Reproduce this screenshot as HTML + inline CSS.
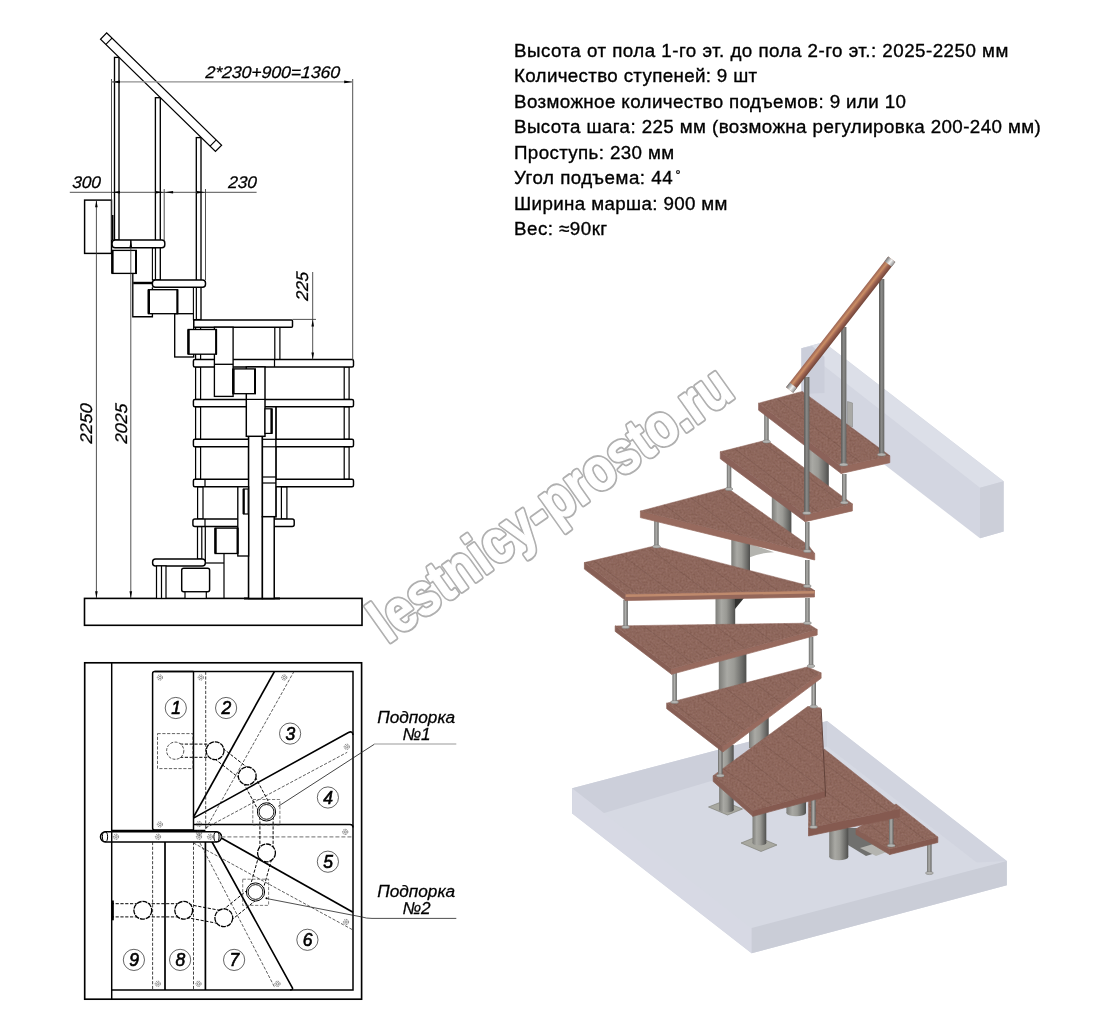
<!DOCTYPE html>
<html lang="ru"><head><meta charset="utf-8"><title>Лестница</title>
<style>
html,body{margin:0;padding:0;background:#fff;}
body{width:1099px;height:1017px;overflow:hidden;font-family:"Liberation Sans",sans-serif;}
svg{display:block;}
#info,#elev,#plan{filter:grayscale(1);}
.ln{stroke:#000;fill:none;}
.dim{font-family:"Liberation Sans",sans-serif;font-style:italic;fill:#000;stroke:#000;stroke-width:0.28px;}
.info{font-family:"Liberation Sans",sans-serif;fill:#000;stroke:#000;stroke-width:0.35px;}
</style></head><body>
<svg width="1099" height="1017" viewBox="0 0 1099 1017">
<defs>
<linearGradient id="gcol" x1="0" y1="0" x2="1" y2="0">
<stop offset="0" stop-color="#7d7d79"/><stop offset="0.3" stop-color="#a9a9a4"/><stop offset="0.55" stop-color="#9a9a95"/><stop offset="0.85" stop-color="#6a6a67"/><stop offset="1" stop-color="#4e4e4c"/></linearGradient>
<linearGradient id="gsp" x1="0" y1="0" x2="1" y2="0">
<stop offset="0" stop-color="#6a6a68"/><stop offset="0.45" stop-color="#b0b0ad"/><stop offset="1" stop-color="#636361"/></linearGradient>
<filter id="wood" x="-3%" y="-3%" width="106%" height="106%" color-interpolation-filters="sRGB">
<feTurbulence type="fractalNoise" baseFrequency="0.5" numOctaves="2" seed="11" result="n"/>
<feColorMatrix in="n" type="matrix" values="0 0 0 0 0.4  0 0 0 0 0.24  0 0 0 0 0.18  0.65 0 0 0 -0.25" result="dk"/>
<feComposite in="dk" in2="SourceGraphic" operator="in" result="d2"/>
<feColorMatrix in="n" type="matrix" values="0 0 0 0 0.7  0 0 0 0 0.56  0 0 0 0 0.52  0 0.6 0 0 -0.26" result="lt"/>
<feComposite in="lt" in2="SourceGraphic" operator="in" result="l2"/>
<feMerge><feMergeNode in="SourceGraphic"/><feMergeNode in="d2"/><feMergeNode in="l2"/></feMerge>
</filter>
<pattern id="planks" width="40" height="21.8" patternUnits="userSpaceOnUse" patternTransform="rotate(37.2)"><rect x="0" y="0" width="40" height="1" fill="#4e2f28" fill-opacity="0.17"/><rect x="0" y="10.5" width="40" height="0.9" fill="#4e2f28" fill-opacity="0.07"/></pattern>
<linearGradient id="gbal" x1="0" y1="0" x2="1" y2="0">
<stop offset="0" stop-color="#5a5a58"/><stop offset="0.5" stop-color="#8c8c8a"/><stop offset="1" stop-color="#626260"/></linearGradient>
<linearGradient id="grail" gradientUnits="userSpaceOnUse" x1="-4.5" y1="0" x2="4.5" y2="0">
<stop offset="0" stop-color="#704438"/><stop offset="0.38" stop-color="#9c6250"/><stop offset="0.65" stop-color="#cb8e64"/><stop offset="1" stop-color="#9a6354"/></linearGradient>
<linearGradient id="gcap" gradientUnits="userSpaceOnUse" x1="-4.5" y1="0" x2="4.5" y2="0">
<stop offset="0" stop-color="#8d8d8d"/><stop offset="0.45" stop-color="#f2f2f2"/><stop offset="1" stop-color="#777"/></linearGradient>

</defs>
<rect width="1099" height="1017" fill="#fff"/>
<polygon points="801.4,348.3 819.5,343.2 826.0,344.0 1003.6,481.3 1003.6,531.4 980.0,538.3 801.4,400.5" fill="#d3d6e1" />
<polygon points="801.4,348.3 819.5,343.2 826.0,344.0 1003.6,481.3 980.0,487.8" fill="#dcdfe8" />
<polygon points="801.4,348.3 812.0,346.0 824.5,357.0 824.5,393.0 801.4,394.0" fill="#cbceda" />
<polygon points="980.0,487.8 1003.6,481.3 1003.6,531.4 980.0,538.3" fill="#cccfd9" />
<polygon points="572.2,788.3 827.1,721.1 1006.8,861.0 1006.8,885.3 751.6,953.3 572.2,813.6" fill="#d6d9e3" />
<polygon points="572.2,788.3 827.1,721.1 827.1,746.4 604.2,813.1 572.2,813.6" fill="#cccfda" />
<polygon points="827.1,721.1 1006.8,861.0 976.8,862.5 827.1,746.4" fill="#d1d4df" />
<polygon points="572.2,788.3 751.6,928.0 751.6,953.3 572.2,813.6" fill="#d7d9e4" />
<polygon points="751.6,928.0 1006.8,861.0 1006.8,885.3 751.6,953.3" fill="#cacdd7" />
<polygon points="708.5,807.0 723.5,801.0 742.5,809.0 727.5,815.0" fill="#a8a8a0" stroke="#77776f" stroke-width="0.6" />
<rect x="719.1" y="745.0" width="14.6" height="65.0" fill="url(#gcol)"/>
<ellipse cx="726.4" cy="810.0" rx="7.3" ry="2.5" fill="url(#gcol)"/>
<polygon points="741.0,843.0 757.0,836.5 777.0,845.0 761.0,851.5" fill="#a8a8a0" stroke="#77776f" stroke-width="0.6" />
<rect x="786.4" y="790.0" width="19.6" height="23.0" fill="url(#gcol)"/>
<ellipse cx="796.2" cy="813.0" rx="9.8" ry="3.3" fill="url(#gcol)"/>
<polygon points="848.0,828.0 885.0,828.0 885.0,850.0 866.0,856.0 848.0,845.0" fill="#70706e" />
<polygon points="860.0,848.0 880.0,842.0 897.0,848.0 876.0,856.0" fill="#b4b4b0" />
<rect x="829.2" y="820.0" width="19.1" height="37.0" fill="url(#gcol)"/>
<ellipse cx="838.8" cy="857.0" rx="9.5" ry="3.2" fill="url(#gcol)"/>
<rect x="927.1" y="844.0" width="4.5" height="29.0" fill="url(#gsp)"/>
<ellipse cx="929.4" cy="873.0" rx="3.9" ry="1.6" fill="#b4b4b1" stroke="#7a7a78" stroke-width="0.5"/>
<polygon points="889.7,849.0 937.8,837.0 937.8,842.5 889.7,854.5" fill="#855a50" stroke="#855a50" stroke-width="0.7" stroke-linejoin="round"/>
<polygon points="856.0,829.0 889.7,849.0 889.7,854.5 856.0,834.5" fill="#875f55" stroke="#875f55" stroke-width="0.7" stroke-linejoin="round"/>
<polygon points="896.0,804.0 937.8,837.0 889.7,849.0 856.0,829.0" fill="#90695f" stroke="#90695f" stroke-width="0.5" stroke-linejoin="round" filter="url(#wood)"/>
<polygon points="896.0,804.0 937.8,837.0 889.7,849.0 856.0,829.0" fill="url(#planks)" />
<rect x="889.0" y="816.0" width="4.5" height="29.5" fill="url(#gsp)"/>
<ellipse cx="891.2" cy="845.5" rx="3.9" ry="1.6" fill="#b4b4b1" stroke="#7a7a78" stroke-width="0.5"/>
<polygon points="808.5,828.0 899.5,809.0 899.5,817.0 808.5,836.0" fill="#855a50" stroke="#855a50" stroke-width="0.7" stroke-linejoin="round"/>
<polygon points="824.2,749.0 899.5,809.0 808.5,828.0 808.5,790.0" fill="#90695f" stroke="#90695f" stroke-width="0.5" stroke-linejoin="round" filter="url(#wood)"/>
<polygon points="824.2,749.0 899.5,809.0 808.5,828.0 808.5,790.0" fill="url(#planks)" />
<rect x="752.5" y="800.0" width="13.8" height="43.0" fill="url(#gcol)"/>
<ellipse cx="759.4" cy="843.0" rx="6.9" ry="2.3" fill="url(#gcol)"/>
<rect x="811.2" y="797.0" width="4.5" height="30.0" fill="url(#gsp)"/>
<ellipse cx="813.5" cy="827.0" rx="3.9" ry="1.6" fill="#b4b4b1" stroke="#7a7a78" stroke-width="0.5"/>
<rect x="749.0" y="716.0" width="19.7" height="32.0" fill="url(#gcol)"/>
<polygon points="713.2,775.7 752.9,810.5 752.9,816.3 713.2,781.5" fill="#875f55" stroke="#875f55" stroke-width="0.7" stroke-linejoin="round"/>
<polygon points="752.9,810.5 825.3,791.0 825.3,796.8 752.9,816.3" fill="#855a50" stroke="#855a50" stroke-width="0.7" stroke-linejoin="round"/>
<polygon points="713.2,775.7 808.0,706.3 820.8,707.9 825.3,791.0 752.9,810.5" fill="#90695f" stroke="#90695f" stroke-width="0.5" stroke-linejoin="round" filter="url(#wood)"/>
<polygon points="713.2,775.7 808.0,706.3 820.8,707.9 825.3,791.0 752.9,810.5" fill="url(#planks)" />
<path d="M821.2,709 L825.4,791 V796.5" fill="none" stroke="#5b3d36" stroke-width="0.9"/>
<rect x="718.0" y="748.0" width="4.5" height="27.5" fill="url(#gsp)"/>
<ellipse cx="720.3" cy="775.5" rx="3.9" ry="1.6" fill="#b4b4b1" stroke="#7a7a78" stroke-width="0.5"/>
<rect x="718.8" y="652.0" width="27.6" height="43.0" fill="url(#gcol)"/>
<rect x="811.5" y="682.0" width="4.5" height="24.5" fill="url(#gsp)"/>
<ellipse cx="813.7" cy="706.5" rx="3.9" ry="1.6" fill="#b4b4b1" stroke="#7a7a78" stroke-width="0.5"/>
<polygon points="666.7,703.2 722.8,746.5 722.8,752.0 666.7,708.7" fill="#875f55" stroke="#875f55" stroke-width="0.7" stroke-linejoin="round"/>
<polygon points="722.8,746.5 821.1,672.8 821.1,678.3 722.8,752.0" fill="#976a5e" stroke="#976a5e" stroke-width="0.7" stroke-linejoin="round"/>
<polygon points="666.7,703.2 807.3,666.9 821.1,672.8 722.8,746.5" fill="#90695f" stroke="#90695f" stroke-width="0.5" stroke-linejoin="round" filter="url(#wood)"/>
<polygon points="666.7,703.2 807.3,666.9 821.1,672.8 722.8,746.5" fill="url(#planks)" />
<rect x="672.4" y="672.0" width="4.5" height="30.0" fill="url(#gsp)"/>
<ellipse cx="674.6" cy="702.0" rx="3.9" ry="1.6" fill="#b4b4b1" stroke="#7a7a78" stroke-width="0.5"/>
<rect x="715.5" y="597.0" width="19.7" height="31.0" fill="url(#gcol)"/>
<polygon points="735.0,598.0 744.0,598.0 735.0,609.0" fill="#333331" />
<rect x="808.8" y="637.0" width="4.5" height="29.0" fill="url(#gsp)"/>
<ellipse cx="811.0" cy="666.0" rx="3.9" ry="1.6" fill="#b4b4b1" stroke="#7a7a78" stroke-width="0.5"/>
<polygon points="615.2,625.9 671.6,668.8 671.6,674.3 615.2,631.4" fill="#875f55" stroke="#875f55" stroke-width="0.7" stroke-linejoin="round"/>
<polygon points="671.6,668.8 817.2,629.5 817.2,635.0 671.6,674.3" fill="#976a5e" stroke="#976a5e" stroke-width="0.7" stroke-linejoin="round"/>
<polygon points="615.2,625.9 807.3,623.2 817.2,629.5 671.6,668.8" fill="#90695f" stroke="#90695f" stroke-width="0.5" stroke-linejoin="round" filter="url(#wood)"/>
<polygon points="615.2,625.9 807.3,623.2 817.2,629.5 671.6,668.8" fill="url(#planks)" />
<rect x="623.4" y="600.0" width="4.5" height="27.0" fill="url(#gsp)"/>
<ellipse cx="625.6" cy="627.0" rx="3.9" ry="1.6" fill="#b4b4b1" stroke="#7a7a78" stroke-width="0.5"/>
<path d="M750,544 L774,552.2 Q759,553 750,557.2 Z" fill="#b4b4af"/>
<rect x="731.3" y="538.0" width="18.7" height="34.0" fill="url(#gcol)"/>
<rect x="805.2" y="598.0" width="4.5" height="25.0" fill="url(#gsp)"/>
<ellipse cx="807.5" cy="623.0" rx="3.9" ry="1.6" fill="#b4b4b1" stroke="#7a7a78" stroke-width="0.5"/>
<polygon points="584.4,562.6 625.7,594.1 625.7,600.6 584.4,569.1" fill="#875f55" stroke="#875f55" stroke-width="0.7" stroke-linejoin="round"/>
<polygon points="625.7,594.1 814.5,590.5 814.5,597.0 625.7,600.6" fill="#95675a" stroke="#95675a" stroke-width="0.7" stroke-linejoin="round"/>
<polygon points="625.7,594.1 814.5,590.5 814.5,593.4 625.7,597.0" fill="#bf8a6d" />
<polygon points="584.4,562.6 654.6,545.9 806.0,585.0 814.5,590.5 625.7,594.1" fill="#90695f" stroke="#90695f" stroke-width="0.5" stroke-linejoin="round" filter="url(#wood)"/>
<polygon points="584.4,562.6 654.6,545.9 806.0,585.0 814.5,590.5 625.7,594.1" fill="url(#planks)" />
<rect x="654.2" y="518.0" width="4.5" height="28.5" fill="url(#gsp)"/>
<ellipse cx="656.5" cy="546.5" rx="3.9" ry="1.6" fill="#b4b4b1" stroke="#7a7a78" stroke-width="0.5"/>
<rect x="771.8" y="495.0" width="19.6" height="40.0" fill="url(#gcol)"/>
<rect x="805.0" y="560.0" width="4.5" height="26.0" fill="url(#gsp)"/>
<ellipse cx="807.3" cy="586.0" rx="3.9" ry="1.6" fill="#b4b4b1" stroke="#7a7a78" stroke-width="0.5"/>
<polygon points="640.4,511.1 814.7,553.5 814.7,560.0 640.4,517.6" fill="#976a5e" stroke="#976a5e" stroke-width="0.7" stroke-linejoin="round"/>
<polygon points="640.4,511.1 727.3,487.9 808.0,545.0 814.7,553.5" fill="#90695f" stroke="#90695f" stroke-width="0.5" stroke-linejoin="round" filter="url(#wood)"/>
<polygon points="640.4,511.1 727.3,487.9 808.0,545.0 814.7,553.5" fill="url(#planks)" />
<rect x="726.8" y="462.0" width="4.5" height="27.0" fill="url(#gsp)"/>
<ellipse cx="729.0" cy="489.0" rx="3.9" ry="1.6" fill="#b4b4b1" stroke="#7a7a78" stroke-width="0.5"/>
<rect x="805.2" y="448.0" width="23.6" height="42.0" fill="url(#gcol)"/>
<rect x="805.0" y="522.0" width="4.5" height="29.0" fill="url(#gsp)"/>
<ellipse cx="807.3" cy="551.0" rx="3.9" ry="1.6" fill="#b4b4b1" stroke="#7a7a78" stroke-width="0.5"/>
<polygon points="720.3,451.8 805.2,514.7 805.2,521.7 720.3,458.8" fill="#8b6259" stroke="#8b6259" stroke-width="0.7" stroke-linejoin="round"/>
<polygon points="805.2,514.7 852.4,503.9 852.4,510.9 805.2,521.7" fill="#95695d" stroke="#95695d" stroke-width="0.7" stroke-linejoin="round"/>
<polygon points="720.3,451.8 766.9,440.0 852.4,503.9 805.2,514.7" fill="#90695f" stroke="#90695f" stroke-width="0.5" stroke-linejoin="round" filter="url(#wood)"/>
<polygon points="720.3,451.8 766.9,440.0 852.4,503.9 805.2,514.7" fill="url(#planks)" />
<polygon points="847.5,401.5 852.5,403.0 852.5,427.0 847.5,425.0" fill="#a9a9a6" stroke="#80807c" stroke-width="0.5" />
<rect x="764.2" y="412.0" width="4.5" height="29.5" fill="url(#gsp)"/>
<ellipse cx="766.5" cy="441.5" rx="3.9" ry="1.6" fill="#b4b4b1" stroke="#7a7a78" stroke-width="0.5"/>
<rect x="842.0" y="474.0" width="4.5" height="28.5" fill="url(#gsp)"/>
<ellipse cx="844.3" cy="502.5" rx="3.9" ry="1.6" fill="#b4b4b1" stroke="#7a7a78" stroke-width="0.5"/>
<polygon points="758.6,403.2 841.2,466.5 841.2,473.5 758.6,410.2" fill="#8b6259" stroke="#8b6259" stroke-width="0.7" stroke-linejoin="round"/>
<polygon points="841.2,466.5 889.8,455.7 889.8,462.7 841.2,473.5" fill="#95695d" stroke="#95695d" stroke-width="0.7" stroke-linejoin="round"/>
<polygon points="758.6,403.2 802.3,391.4 889.8,455.7 841.2,466.5" fill="#90695f" stroke="#90695f" stroke-width="0.5" stroke-linejoin="round" filter="url(#wood)"/>
<polygon points="758.6,403.2 802.3,391.4 889.8,455.7 841.2,466.5" fill="url(#planks)" />
<rect x="804.1" y="377.0" width="5.3" height="136.0" fill="url(#gbal)"/>
<ellipse cx="806.8" cy="513.0" rx="4.2" ry="1.6" fill="#b4b4b1" stroke="#7a7a78" stroke-width="0.5"/>
<rect x="841.1" y="327.0" width="5.3" height="137.5" fill="url(#gbal)"/>
<ellipse cx="843.7" cy="464.5" rx="4.2" ry="1.6" fill="#b4b4b1" stroke="#7a7a78" stroke-width="0.5"/>
<rect x="879.0" y="279.0" width="5.3" height="175.5" fill="url(#gbal)"/>
<ellipse cx="881.6" cy="454.5" rx="4.2" ry="1.6" fill="#b4b4b1" stroke="#7a7a78" stroke-width="0.5"/>
<g transform="translate(789.6,389.9) rotate(-141.96)">
<rect x="-4.5" y="0" width="9" height="165.8" fill="url(#grail)"/>
<rect x="-4.5" y="0" width="9" height="6" fill="url(#gcap)"/>
<rect x="-4.5" y="159.8" width="9" height="6" fill="url(#gcap)"/>
</g>
<g id="elev">
<rect x="84.5" y="598.4" width="277.5" height="26.9" fill="#fff" stroke="#000" stroke-width="1.59" rx="0"/>
<rect x="84.6" y="200.1" width="26.9" height="53.3" fill="#fff" stroke="#000" stroke-width="1.46" rx="0"/>
<rect x="248.6" y="366.9" width="13.8" height="231.5" fill="#fff" stroke="#000" stroke-width="1.46" rx="0"/>
<rect x="262.4" y="516.7" width="11.8" height="81.7" fill="#fff" stroke="#000" stroke-width="1.46" rx="0"/>
<rect x="262.4" y="406.8" width="13.5" height="109.9" fill="#fff" stroke="#000" stroke-width="1.46" rx="0"/>
<line x1="244.0" y1="598.4" x2="280.0" y2="598.4" stroke="#000" stroke-width="1.95" />
<rect x="114.5" y="57.4" width="4.5" height="182.6" fill="#fff" stroke="#000" stroke-width="1.34" rx="0"/>
<rect x="155.4" y="97.7" width="4.9" height="182.2" fill="#fff" stroke="#000" stroke-width="1.34" rx="0"/>
<rect x="196.3" y="137.6" width="4.7" height="182.0" fill="#fff" stroke="#000" stroke-width="1.34" rx="0"/>
<line x1="112.4" y1="215.0" x2="112.4" y2="240.0" stroke="#000" stroke-width="2.2" />
<path d="M132.8,273.4 V316.7 H152.4 V287.2" fill="none" stroke="#000" stroke-width="1.35"/>
<line x1="133.2" y1="283.0" x2="152.4" y2="283.0" stroke="#000" stroke-width="2.44" />
<rect x="174.7" y="313.7" width="19.0" height="43.3" fill="#fff" stroke="#000" stroke-width="1.34" rx="0"/>
<rect x="152.4" y="247.8" width="3.0" height="32.1" fill="#fff" stroke="#000" stroke-width="1.1" rx="0"/>
<rect x="193.4" y="287.2" width="2.9" height="32.4" fill="#fff" stroke="#000" stroke-width="1.1" rx="0"/>
<rect x="195.6" y="327.2" width="5.0" height="32.4" fill="#fff" stroke="#000" stroke-width="1.22" rx="0"/>
<rect x="195.6" y="366.9" width="5.0" height="32.5" fill="#fff" stroke="#000" stroke-width="1.22" rx="0"/>
<rect x="195.6" y="406.8" width="5.0" height="32.5" fill="#fff" stroke="#000" stroke-width="1.22" rx="0"/>
<rect x="195.6" y="446.8" width="5.0" height="32.5" fill="#fff" stroke="#000" stroke-width="1.22" rx="0"/>
<rect x="197.6" y="486.8" width="5.4" height="32.2" fill="#fff" stroke="#000" stroke-width="1.22" rx="0"/>
<rect x="344.2" y="366.9" width="4.9" height="32.5" fill="#fff" stroke="#000" stroke-width="1.22" rx="0"/>
<rect x="344.2" y="406.8" width="4.9" height="32.5" fill="#fff" stroke="#000" stroke-width="1.22" rx="0"/>
<rect x="344.2" y="446.8" width="4.9" height="32.5" fill="#fff" stroke="#000" stroke-width="1.22" rx="0"/>
<rect x="274.8" y="327.2" width="5.1" height="32.4" fill="#fff" stroke="#000" stroke-width="1.22" rx="0"/>
<rect x="281.4" y="486.8" width="5.5" height="32.2" fill="#fff" stroke="#000" stroke-width="1.22" rx="0"/>
<rect x="197.5" y="526.5" width="4.3" height="32.5" fill="#fff" stroke="#000" stroke-width="1.22" rx="0"/>
<line x1="205.3" y1="526.5" x2="205.3" y2="563.0" stroke="#000" stroke-width="1.22" />
<rect x="112.1" y="240.0" width="52.7" height="7.8" fill="#fff" stroke="#000" stroke-width="1.46" rx="3"/>
<line x1="130.8" y1="240.0" x2="130.8" y2="247.8" stroke="#000" stroke-width="1.46" />
<rect x="152.4" y="279.9" width="53.1" height="7.3" fill="#fff" stroke="#000" stroke-width="1.46" rx="3"/>
<rect x="193.8" y="319.9" width="98.7" height="7.3" fill="#fff" stroke="#000" stroke-width="1.46" rx="1"/>
<rect x="193.4" y="359.6" width="160.1" height="7.3" fill="#fff" stroke="#000" stroke-width="1.46" rx="1.5"/>
<rect x="193.4" y="399.4" width="160.1" height="7.4" fill="#fff" stroke="#000" stroke-width="1.46" rx="1.5"/>
<rect x="193.4" y="439.3" width="160.1" height="7.5" fill="#fff" stroke="#000" stroke-width="1.46" rx="1.5"/>
<rect x="193.4" y="479.3" width="160.1" height="7.5" fill="#fff" stroke="#000" stroke-width="1.46" rx="1.5"/>
<line x1="274.5" y1="359.6" x2="274.5" y2="366.9" stroke="#000" stroke-width="1.22" />
<line x1="205.0" y1="479.3" x2="205.0" y2="486.8" stroke="#000" stroke-width="1.22" />
<rect x="192.9" y="519.0" width="101.3" height="7.5" fill="#fff" stroke="#000" stroke-width="1.46" rx="2"/>
<line x1="205.0" y1="519.0" x2="205.0" y2="526.5" stroke="#000" stroke-width="1.22" />
<rect x="152.6" y="559.0" width="52.7" height="6.9" fill="#fff" stroke="#000" stroke-width="1.46" rx="3"/>
<rect x="214.4" y="327.2" width="18.7" height="69.2" fill="#fff" stroke="#000" stroke-width="1.34" rx="0"/>
<line x1="214.4" y1="364.3" x2="233.1" y2="364.3" stroke="#000" stroke-width="1.34" />
<rect x="248.6" y="366.9" width="13.8" height="231.5" fill="#fff" stroke="#000" stroke-width="1.46" rx="0"/>
<rect x="262.4" y="406.8" width="13.5" height="109.9" fill="#fff" stroke="#000" stroke-width="1.46" rx="0"/>
<rect x="262.4" y="516.7" width="11.8" height="81.7" fill="#fff" stroke="#000" stroke-width="1.46" rx="0"/>
<line x1="262.4" y1="439.3" x2="275.9" y2="439.3" stroke="#000" stroke-width="1.22" />
<line x1="262.4" y1="446.8" x2="275.9" y2="446.8" stroke="#000" stroke-width="1.22" />
<line x1="262.4" y1="477.0" x2="275.9" y2="477.0" stroke="#000" stroke-width="1.22" />
<line x1="262.4" y1="483.0" x2="275.9" y2="483.0" stroke="#000" stroke-width="1.22" />
<rect x="246.3" y="366.9" width="18.7" height="69.4" fill="#fff" stroke="#000" stroke-width="1.46" rx="0"/>
<line x1="246.3" y1="399.4" x2="265.0" y2="399.4" stroke="#000" stroke-width="1.22" />
<rect x="265.0" y="408.8" width="7.0" height="24.6" fill="#fff" stroke="#000" stroke-width="1.22" rx="0"/>
<line x1="271.5" y1="408.8" x2="271.5" y2="433.4" stroke="#000" stroke-width="2.2" />
<rect x="112.1" y="250.4" width="24.2" height="23.0" fill="#fff" stroke="#000" stroke-width="1.34" rx="0"/>
<line x1="112.4" y1="250.4" x2="112.4" y2="273.4" stroke="#000" stroke-width="2.44" />
<line x1="136.0" y1="250.4" x2="136.0" y2="273.4" stroke="#000" stroke-width="1.95" />
<rect x="148.5" y="289.7" width="29.1" height="24.0" fill="#fff" stroke="#000" stroke-width="1.34" rx="0"/>
<line x1="148.8" y1="289.7" x2="148.8" y2="313.7" stroke="#000" stroke-width="2.44" />
<line x1="177.3" y1="289.7" x2="177.3" y2="313.7" stroke="#000" stroke-width="1.95" />
<rect x="188.2" y="329.5" width="28.2" height="24.7" fill="#fff" stroke="#000" stroke-width="1.34" rx="0"/>
<line x1="188.5" y1="329.5" x2="188.5" y2="354.2" stroke="#000" stroke-width="2.44" />
<line x1="216.1" y1="329.5" x2="216.1" y2="354.2" stroke="#000" stroke-width="1.95" />
<rect x="233.1" y="368.9" width="22.2" height="24.8" fill="#fff" stroke="#000" stroke-width="1.34" rx="0"/>
<line x1="233.4" y1="368.9" x2="233.4" y2="393.7" stroke="#000" stroke-width="2.44" />
<line x1="255.0" y1="368.9" x2="255.0" y2="393.7" stroke="#000" stroke-width="1.95" />
<rect x="237.8" y="486.8" width="10.8" height="69.2" fill="#fff" stroke="#000" stroke-width="1.34" rx="0"/>
<rect x="243.5" y="489.0" width="4.7" height="25.0" fill="#fff" stroke="#000" stroke-width="1.22" rx="0"/>
<line x1="243.7" y1="489.0" x2="243.7" y2="514.0" stroke="#000" stroke-width="2.2" />
<rect x="215.2" y="528.1" width="22.6" height="25.4" fill="#fff" stroke="#000" stroke-width="1.34" rx="0"/>
<line x1="215.5" y1="528.1" x2="215.5" y2="553.5" stroke="#000" stroke-width="2.44" />
<line x1="237.5" y1="528.1" x2="237.5" y2="553.5" stroke="#000" stroke-width="1.95" />
<line x1="205.3" y1="563.0" x2="224.0" y2="563.0" stroke="#000" stroke-width="1.22" />
<line x1="224.0" y1="553.5" x2="224.0" y2="598.4" stroke="#000" stroke-width="1.22" />
<rect x="181.7" y="568.2" width="27.9" height="23.6" fill="#fff" stroke="#000" stroke-width="1.46" rx="2"/>
<rect x="185.0" y="591.8" width="21.3" height="6.6" fill="#fff" stroke="#000" stroke-width="1.22" rx="0"/>
<rect x="156.5" y="565.9" width="9.5" height="32.5" fill="#fff" stroke="#000" stroke-width="1.22" rx="0"/>
<line x1="161.5" y1="565.9" x2="161.5" y2="598.4" stroke="#000" stroke-width="1.22" />
<g transform="translate(103.6,36.0) rotate(44.34)">
<rect x="0" y="-4.4" width="160.7" height="8.8" fill="#fff" stroke="#000" stroke-width="1.2"/>
<line x1="7.5" y1="-4.4" x2="7.5" y2="4.4" stroke="#000" stroke-width="1.1"/>
<line x1="153.2" y1="-4.4" x2="153.2" y2="4.4" stroke="#000" stroke-width="1.1"/>
</g>
<line x1="111.5" y1="79.0" x2="111.5" y2="240.0" stroke="#333" stroke-width="0.85" />
<line x1="352.7" y1="79.0" x2="352.7" y2="360.0" stroke="#333" stroke-width="0.85" />
<line x1="111.5" y1="81.9" x2="352.7" y2="81.9" stroke="#909090" stroke-width="1.28" />
<polygon points="352.7,81.9 344.2,83.3 344.2,80.5" fill="#000" />
<polygon points="111.5,81.9 120.0,80.6 120.0,83.2" fill="#000" />
<line x1="69.8" y1="192.3" x2="256.6" y2="192.3" stroke="#333" stroke-width="0.85" />
<line x1="164.2" y1="189.0" x2="164.2" y2="240.0" stroke="#333" stroke-width="0.85" />
<line x1="205.5" y1="189.0" x2="205.5" y2="280.0" stroke="#333" stroke-width="0.85" />
<polygon points="164.0,192.3 155.5,193.6 155.5,191.0" fill="#000" />
<polygon points="164.6,192.3 173.1,191.0 173.1,193.6" fill="#000" />
<polygon points="205.5,192.3 197.0,193.6 197.0,191.0" fill="#000" />
<polygon points="111.5,192.3 120.0,191.0 120.0,193.6" fill="#000" />
<line x1="96.4" y1="200.5" x2="96.4" y2="598.0" stroke="#333" stroke-width="0.85" />
<polygon points="96.4,200.3 97.7,207.3 95.1,207.3" fill="#000" />
<polygon points="96.4,598.2 95.1,591.2 97.7,591.2" fill="#000" />
<line x1="130.8" y1="241.0" x2="130.8" y2="598.0" stroke="#333" stroke-width="0.85" />
<polygon points="130.8,240.5 132.1,247.5 129.5,247.5" fill="#000" />
<polygon points="130.8,598.2 129.5,591.2 132.1,591.2" fill="#000" />
<line x1="292.5" y1="319.4" x2="316.0" y2="319.4" stroke="#333" stroke-width="0.85" />
<line x1="312.7" y1="272.0" x2="312.7" y2="359.5" stroke="#333" stroke-width="0.85" />
<polygon points="312.7,319.5 314.0,326.5 311.4,326.5" fill="#000" />
<polygon points="312.7,359.5 311.4,352.5 314.0,352.5" fill="#000" />
<text class="dim" x="0" y="0" font-size="16.9" text-anchor="start" transform="translate(205.3,78.0) skewX(-4)" textLength="134.5" lengthAdjust="spacingAndGlyphs">2*230+900=1360</text>
<text class="dim" x="0" y="0" font-size="16.9" text-anchor="start" transform="translate(72.0,187.5) skewX(-4)" textLength="28.5" lengthAdjust="spacingAndGlyphs">300</text>
<text class="dim" x="0" y="0" font-size="16.9" text-anchor="start" transform="translate(228.0,187.5) skewX(-4)" textLength="28.5" lengthAdjust="spacingAndGlyphs">230</text>
<text class="dim" x="0" y="0" font-size="16.9" text-anchor="start" transform="translate(92.0,443.8) rotate(-90) skewX(-4)" textLength="40.0" lengthAdjust="spacingAndGlyphs">2250</text>
<text class="dim" x="0" y="0" font-size="16.9" text-anchor="start" transform="translate(126.5,443.8) rotate(-90) skewX(-4)" textLength="40.0" lengthAdjust="spacingAndGlyphs">2025</text>
<text class="dim" x="0" y="0" font-size="16.9" text-anchor="start" transform="translate(308.0,301.0) rotate(-90) skewX(-4)" textLength="29.0" lengthAdjust="spacingAndGlyphs">225</text>
</g>
<g id="plan">
<rect x="84.7" y="662.8" width="276.9" height="336.4" fill="none" stroke="#000" stroke-width="1.65" rx="0"/>
<line x1="111.7" y1="662.8" x2="111.7" y2="999.2" stroke="#000" stroke-width="1.46" />
<path d="M154.6,671.6 H353 V990 H111.7" fill="none" stroke="#000" stroke-width="1.5"/>
<path d="M193.5,671.6 H154.6 Q152.6,671.6 152.6,673.6 V828 Q152.6,830 154.6,830 H193.5" fill="none" stroke="#000" stroke-width="1.5"/>
<line x1="193.5" y1="671.6" x2="193.5" y2="830.0" stroke="#000" stroke-width="1.46" />
<line x1="193.5" y1="817.2" x2="274.4" y2="671.6" stroke="#000" stroke-width="1.71" />
<path d="M193.5,818.1 L348.5,732.5 Q352.5,730.5 353,735" fill="none" stroke="#000" stroke-width="1.6"/>
<path d="M193.5,824.6 H350 Q353,824.6 353,827.6" fill="none" stroke="#000" stroke-width="1.5"/>
<line x1="221.3" y1="838.0" x2="353.0" y2="912.3" stroke="#000" stroke-width="1.71" />
<path d="M211.5,841 L292.5,988 Q293,990 290,990" fill="none" stroke="#000" stroke-width="1.6"/>
<line x1="205.4" y1="841.9" x2="205.4" y2="990.0" stroke="#000" stroke-width="1.71" />
<line x1="165.0" y1="841.9" x2="165.0" y2="990.0" stroke="#000" stroke-width="1.71" />
<rect x="100.5" y="831.7" width="121" height="10.2" rx="5" fill="#fff" stroke="#000" stroke-width="1.5"/>
<line x1="111.7" y1="830.8" x2="205.4" y2="830.8" stroke="#000" stroke-width="2.2" />
<ellipse cx="105" cy="836.8" rx="2.6" ry="5" fill="none" stroke="#000" stroke-width="1"/>
<ellipse cx="216.5" cy="836.8" rx="2.6" ry="5" fill="none" stroke="#000" stroke-width="1"/>
<line x1="111.7" y1="831.7" x2="111.7" y2="841.9" stroke="#000" stroke-width="1.46" />
<line x1="205.7" y1="671.6" x2="205.7" y2="830.0" stroke="#222" stroke-width="0.85" stroke-dasharray="3.2 1.6"/>
<line x1="152.6" y1="841.9" x2="152.6" y2="990.0" stroke="#222" stroke-width="0.85" stroke-dasharray="3.2 1.6"/>
<line x1="193.5" y1="841.9" x2="193.5" y2="990.0" stroke="#222" stroke-width="0.85" stroke-dasharray="3.2 1.6"/>
<line x1="221.4" y1="836.8" x2="353.0" y2="836.8" stroke="#8c8c8c" stroke-width="1.34" stroke-dasharray="4 2"/>
<line x1="205.7" y1="829.0" x2="293.9" y2="671.6" stroke="#222" stroke-width="0.73" stroke-dasharray="3.2 1.6"/>
<line x1="205.6" y1="828.0" x2="347.2" y2="752.3" stroke="#222" stroke-width="0.73" stroke-dasharray="3.2 1.6"/>
<line x1="193.5" y1="843.0" x2="353.0" y2="930.0" stroke="#222" stroke-width="0.73" stroke-dasharray="3.2 1.6"/>
<line x1="200.0" y1="843.0" x2="275.0" y2="988.0" stroke="#222" stroke-width="0.73" stroke-dasharray="3.2 1.6"/>
<circle cx="159.9" cy="677.5" r="2.6" fill="none" stroke="#333" stroke-width="0.6" stroke-dasharray="1.6 0.8"/>
<circle cx="159.9" cy="677.5" r="1.2" fill="none" stroke="#333" stroke-width="0.5"/>
<circle cx="200.8" cy="677.5" r="2.6" fill="none" stroke="#333" stroke-width="0.6" stroke-dasharray="1.6 0.8"/>
<circle cx="200.8" cy="677.5" r="1.2" fill="none" stroke="#333" stroke-width="0.5"/>
<circle cx="284.2" cy="677.5" r="2.6" fill="none" stroke="#333" stroke-width="0.6" stroke-dasharray="1.6 0.8"/>
<circle cx="284.2" cy="677.5" r="1.2" fill="none" stroke="#333" stroke-width="0.5"/>
<circle cx="346.8" cy="746.8" r="2.6" fill="none" stroke="#333" stroke-width="0.6" stroke-dasharray="1.6 0.8"/>
<circle cx="346.8" cy="746.8" r="1.2" fill="none" stroke="#333" stroke-width="0.5"/>
<circle cx="345.2" cy="831.9" r="2.6" fill="none" stroke="#333" stroke-width="0.6" stroke-dasharray="1.6 0.8"/>
<circle cx="345.2" cy="831.9" r="1.2" fill="none" stroke="#333" stroke-width="0.5"/>
<circle cx="159.9" cy="824.4" r="2.6" fill="none" stroke="#333" stroke-width="0.6" stroke-dasharray="1.6 0.8"/>
<circle cx="159.9" cy="824.4" r="1.2" fill="none" stroke="#333" stroke-width="0.5"/>
<circle cx="199.0" cy="824.0" r="2.6" fill="none" stroke="#333" stroke-width="0.6" stroke-dasharray="1.6 0.8"/>
<circle cx="199.0" cy="824.0" r="1.2" fill="none" stroke="#333" stroke-width="0.5"/>
<circle cx="199.0" cy="833.0" r="2.6" fill="none" stroke="#333" stroke-width="0.6" stroke-dasharray="1.6 0.8"/>
<circle cx="199.0" cy="833.0" r="1.2" fill="none" stroke="#333" stroke-width="0.5"/>
<circle cx="346.0" cy="922.0" r="2.6" fill="none" stroke="#333" stroke-width="0.6" stroke-dasharray="1.6 0.8"/>
<circle cx="346.0" cy="922.0" r="1.2" fill="none" stroke="#333" stroke-width="0.5"/>
<circle cx="277.5" cy="983.8" r="2.6" fill="none" stroke="#333" stroke-width="0.6" stroke-dasharray="1.6 0.8"/>
<circle cx="277.5" cy="983.8" r="1.2" fill="none" stroke="#333" stroke-width="0.5"/>
<circle cx="198.5" cy="983.8" r="2.6" fill="none" stroke="#333" stroke-width="0.6" stroke-dasharray="1.6 0.8"/>
<circle cx="198.5" cy="983.8" r="1.2" fill="none" stroke="#333" stroke-width="0.5"/>
<circle cx="157.8" cy="983.8" r="2.6" fill="none" stroke="#333" stroke-width="0.6" stroke-dasharray="1.6 0.8"/>
<circle cx="157.8" cy="983.8" r="1.2" fill="none" stroke="#333" stroke-width="0.5"/>
<circle cx="116.0" cy="836.8" r="2.6" fill="none" stroke="#333" stroke-width="0.6" stroke-dasharray="1.6 0.8"/>
<circle cx="116.0" cy="836.8" r="1.2" fill="none" stroke="#333" stroke-width="0.5"/>
<circle cx="158.0" cy="836.8" r="2.6" fill="none" stroke="#333" stroke-width="0.6" stroke-dasharray="1.6 0.8"/>
<circle cx="158.0" cy="836.8" r="1.2" fill="none" stroke="#333" stroke-width="0.5"/>
<circle cx="199.0" cy="836.8" r="2.6" fill="none" stroke="#333" stroke-width="0.6" stroke-dasharray="1.6 0.8"/>
<circle cx="199.0" cy="836.8" r="1.2" fill="none" stroke="#333" stroke-width="0.5"/>
<circle cx="210.0" cy="836.8" r="2.6" fill="none" stroke="#333" stroke-width="0.6" stroke-dasharray="1.6 0.8"/>
<circle cx="210.0" cy="836.8" r="1.2" fill="none" stroke="#333" stroke-width="0.5"/>
<line x1="175.2" y1="757.3" x2="215.1" y2="757.3" stroke="#000" stroke-width="0.98" stroke-dasharray="3.2 1.6"/>
<line x1="175.2" y1="744.1" x2="215.1" y2="744.1" stroke="#000" stroke-width="0.98" stroke-dasharray="3.2 1.6"/>
<line x1="211.0" y1="755.9" x2="243.1" y2="781.1" stroke="#000" stroke-width="0.98" stroke-dasharray="3.2 1.6"/>
<line x1="219.2" y1="745.5" x2="251.3" y2="770.7" stroke="#000" stroke-width="0.98" stroke-dasharray="3.2 1.6"/>
<line x1="241.4" y1="779.0" x2="260.7" y2="815.0" stroke="#000" stroke-width="0.98" stroke-dasharray="3.2 1.6"/>
<line x1="253.0" y1="772.8" x2="272.3" y2="808.8" stroke="#000" stroke-width="0.98" stroke-dasharray="3.2 1.6"/>
<line x1="259.9" y1="811.9" x2="259.9" y2="852.9" stroke="#000" stroke-width="0.98" stroke-dasharray="3.2 1.6"/>
<line x1="273.1" y1="811.9" x2="273.1" y2="852.9" stroke="#000" stroke-width="0.98" stroke-dasharray="3.2 1.6"/>
<line x1="260.1" y1="851.1" x2="249.1" y2="890.2" stroke="#000" stroke-width="0.98" stroke-dasharray="3.2 1.6"/>
<line x1="272.9" y1="854.7" x2="261.9" y2="893.8" stroke="#000" stroke-width="0.98" stroke-dasharray="3.2 1.6"/>
<line x1="251.3" y1="886.9" x2="219.6" y2="912.7" stroke="#000" stroke-width="0.98" stroke-dasharray="3.2 1.6"/>
<line x1="259.7" y1="897.1" x2="228.0" y2="922.9" stroke="#000" stroke-width="0.98" stroke-dasharray="3.2 1.6"/>
<line x1="225.0" y1="911.3" x2="184.9" y2="903.8" stroke="#000" stroke-width="0.98" stroke-dasharray="3.2 1.6"/>
<line x1="222.6" y1="924.3" x2="182.5" y2="916.8" stroke="#000" stroke-width="0.98" stroke-dasharray="3.2 1.6"/>
<line x1="183.7" y1="903.7" x2="142.8" y2="903.7" stroke="#000" stroke-width="0.98" stroke-dasharray="3.2 1.6"/>
<line x1="183.7" y1="916.9" x2="142.8" y2="916.9" stroke="#000" stroke-width="0.98" stroke-dasharray="3.2 1.6"/>
<line x1="142.8" y1="903.7" x2="112.5" y2="903.7" stroke="#000" stroke-width="0.98" stroke-dasharray="3.2 1.6"/>
<line x1="142.8" y1="916.9" x2="112.5" y2="916.9" stroke="#000" stroke-width="0.98" stroke-dasharray="3.2 1.6"/>
<line x1="112.6" y1="900.5" x2="112.6" y2="920.3" stroke="#000" stroke-width="2.44" />
<circle cx="175.2" cy="750.7" r="8.6" fill="#fff" stroke="#222" stroke-width="0.8" stroke-dasharray="3 1.4"/>
<circle cx="215.1" cy="750.7" r="8.9" fill="#fff" stroke="#000" stroke-width="1.3" stroke-dasharray="5 0.9"/>
<circle cx="247.2" cy="775.9" r="8.9" fill="#fff" stroke="#000" stroke-width="1.3" stroke-dasharray="5 0.9"/>
<circle cx="266.5" cy="811.9" r="9.1" fill="#fff" stroke="#000" stroke-width="1"/>
<circle cx="266.5" cy="811.9" r="7.4" fill="none" stroke="#000" stroke-width="0.9"/>
<circle cx="266.5" cy="852.9" r="8.9" fill="#fff" stroke="#000" stroke-width="1.3" stroke-dasharray="5 0.9"/>
<circle cx="255.5" cy="892.0" r="9.1" fill="#fff" stroke="#000" stroke-width="1"/>
<circle cx="255.5" cy="892.0" r="7.4" fill="none" stroke="#000" stroke-width="0.9"/>
<circle cx="223.8" cy="917.8" r="8.9" fill="#fff" stroke="#000" stroke-width="1.3" stroke-dasharray="5 0.9"/>
<circle cx="183.7" cy="910.3" r="8.9" fill="#fff" stroke="#000" stroke-width="1.3" stroke-dasharray="5 0.9"/>
<circle cx="142.8" cy="910.3" r="8.9" fill="#fff" stroke="#000" stroke-width="1.3" stroke-dasharray="5 0.9"/>
<rect x="157.5" y="733.6" width="35.4" height="35" fill="none" stroke="#222" stroke-width="0.7" stroke-dasharray="3.2 1.6"/>
<rect x="252.8" y="799.5" width="27.1" height="25.5" fill="none" stroke="#444" stroke-width="0.7" stroke-dasharray="3.2 1.6"/>
<rect x="242.7" y="879.2" width="25.9" height="26.2" fill="none" stroke="#444" stroke-width="0.7" stroke-dasharray="3.2 1.6"/>
<circle cx="175.8" cy="708.0" r="10.6" fill="#fff" stroke="#222" stroke-width="0.7"/>
<text class="dim" x="176.1" y="714.2" font-size="17.5" text-anchor="middle" style="stroke-width:0.6px">1</text>
<circle cx="226.1" cy="708.0" r="10.6" fill="#fff" stroke="#222" stroke-width="0.7"/>
<text class="dim" x="226.4" y="714.2" font-size="17.5" text-anchor="middle" style="stroke-width:0.6px">2</text>
<circle cx="290.1" cy="733.6" r="10.6" fill="#fff" stroke="#222" stroke-width="0.7"/>
<text class="dim" x="290.4" y="739.8" font-size="17.5" text-anchor="middle" style="stroke-width:0.6px">3</text>
<circle cx="327.9" cy="797.5" r="10.6" fill="#fff" stroke="#222" stroke-width="0.7"/>
<text class="dim" x="328.2" y="803.7" font-size="17.5" text-anchor="middle" style="stroke-width:0.6px">4</text>
<circle cx="327.9" cy="861.7" r="10.6" fill="#fff" stroke="#222" stroke-width="0.7"/>
<text class="dim" x="328.2" y="867.9" font-size="17.5" text-anchor="middle" style="stroke-width:0.6px">5</text>
<circle cx="307.4" cy="939.8" r="10.6" fill="#fff" stroke="#222" stroke-width="0.7"/>
<text class="dim" x="307.7" y="946.0" font-size="17.5" text-anchor="middle" style="stroke-width:0.6px">6</text>
<circle cx="234.1" cy="959.9" r="10.6" fill="#fff" stroke="#222" stroke-width="0.7"/>
<text class="dim" x="234.4" y="966.1" font-size="17.5" text-anchor="middle" style="stroke-width:0.6px">7</text>
<circle cx="180.1" cy="959.9" r="10.6" fill="#fff" stroke="#222" stroke-width="0.7"/>
<text class="dim" x="180.4" y="966.1" font-size="17.5" text-anchor="middle" style="stroke-width:0.6px">8</text>
<circle cx="133.9" cy="959.9" r="10.6" fill="#fff" stroke="#222" stroke-width="0.7"/>
<text class="dim" x="134.2" y="966.1" font-size="17.5" text-anchor="middle" style="stroke-width:0.6px">9</text>
<line x1="278.3" y1="806.3" x2="374.4" y2="744.2" stroke="#222" stroke-width="0.85" />
<line x1="374.4" y1="744.0" x2="456.3" y2="744.0" stroke="#9a9a9a" stroke-width="1.22" />
<path d="M266.5,898.5 L362,917 Q366,918.4 372,918.4 H456.3" fill="none" stroke="#222" stroke-width="0.8"/>
<circle cx="266.5" cy="898.3" r="1" fill="#000"/>
<text class="dim" x="416.2" y="723.0" font-size="17.2" text-anchor="middle" textLength="78" lengthAdjust="spacingAndGlyphs">Подпорка</text>
<text class="dim" x="416.5" y="739.6" font-size="17.2" text-anchor="middle">№1</text>
<text class="dim" x="416.2" y="897.0" font-size="17.2" text-anchor="middle" textLength="78" lengthAdjust="spacingAndGlyphs">Подпорка</text>
<text class="dim" x="416.5" y="913.6" font-size="17.2" text-anchor="middle">№2</text>
</g>
<g id="info">
<text class="info" x="514.0" y="56.5" font-size="18.75" letter-spacing="0.477">Высота от пола 1-го эт. до пола 2-го эт.: 2025-2250 мм</text>
<text class="info" x="514.0" y="82.0" font-size="18.75" letter-spacing="0.340">Количество ступеней: 9 шт</text>
<text class="info" x="514.0" y="107.5" font-size="18.75" letter-spacing="0.397">Возможное количество подъемов: 9 или 10</text>
<text class="info" x="514.0" y="133.0" font-size="18.75" letter-spacing="0.410">Высота шага: 225 мм (возможна регулировка 200-240 мм)</text>
<text class="info" x="514.0" y="158.5" font-size="18.75" letter-spacing="0.370">Проступь: 230 мм</text>
<text class="info" x="514.0" y="184.0" font-size="18.75" letter-spacing="0.500">Угол подъема: 44</text>
<text class="info" x="514.0" y="209.5" font-size="18.75" letter-spacing="0.371">Ширина марша: 900 мм</text>
<text class="info" x="514.0" y="235.0" font-size="18.75" letter-spacing="0.471">Вес: ≈90кг</text>
<text class="info" x="675.6" y="179.2" font-size="12.5">°</text>
</g>
<g transform="translate(387.5,644) rotate(-35.4) scale(0.845,1)" letter-spacing="0" font-family="'Liberation Sans',sans-serif" font-size="60" font-weight="bold" stroke-linejoin="round">
<text x="0" y="0" fill="#b0b0b0" stroke="#b0b0b0" stroke-width="5.0">lestnicy-prosto.ru</text>
<text x="0" y="0" fill="#fff" stroke="#fff" stroke-width="1.2">lestnicy-prosto.ru</text>
</g>
</svg>
</body></html>
